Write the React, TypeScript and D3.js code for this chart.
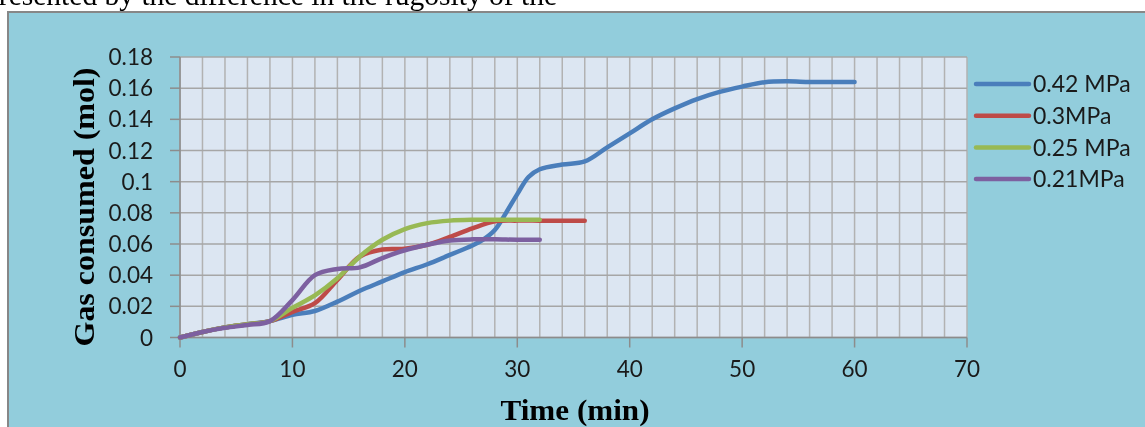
import React from "react";
import * as d3 from "d3";

const timeP42 = [0, 2, 4, 6, 8, 10, 12, 14, 16, 18, 20, 22, 24, 26, 27, 28, 29, 30, 31, 32, 34, 36, 38, 40, 42, 44, 46, 48, 50, 52, 54, 56, 58, 60];
const gasP42 = [0, 0.0035, 0.0065, 0.0085, 0.0105, 0.0145, 0.017, 0.023, 0.030, 0.036, 0.042, 0.047, 0.053, 0.059, 0.063, 0.069, 0.080, 0.092, 0.103, 0.108, 0.111, 0.113, 0.122, 0.131, 0.140, 0.147, 0.153, 0.1576, 0.161, 0.1638, 0.1644, 0.164, 0.164, 0.164];

const timeP30 = [0, 2, 4, 6, 8, 10, 12, 14, 16, 18, 20, 22, 24, 26, 28, 30, 32, 34, 36];
const gasP30 = [0, 0.0035, 0.0065, 0.0085, 0.0105, 0.0165, 0.022, 0.037, 0.052, 0.0565, 0.057, 0.0595, 0.0645, 0.070, 0.0745, 0.075, 0.075, 0.075, 0.075];

const timeP25 = [0, 2, 4, 6, 8, 10, 12, 14, 16, 18, 20, 22, 24, 26, 28, 30, 32];
const gasP25 = [0, 0.0035, 0.0065, 0.0085, 0.0105, 0.019, 0.027, 0.038, 0.052, 0.0627, 0.0696, 0.0734, 0.075, 0.0755, 0.0755, 0.0755, 0.0755];

const timeP21 = [0, 2, 4, 6, 8, 10, 12, 14, 16, 18, 20, 22, 24, 26, 28, 30, 32];
const gasP21 = [0, 0.0035, 0.0062, 0.008, 0.0105, 0.024, 0.040, 0.044, 0.045, 0.051, 0.056, 0.0595, 0.0622, 0.063, 0.063, 0.0627, 0.0627];

const seriesNames = ["0.42 MPa", "0.3MPa", "0.25 MPa", "0.21MPa"];
const seriesColors = ["#4A7EBB", "#BE4B48", "#98B954", "#7D60A0"];
const xTicks = [0, 10, 20, 30, 40, 50, 60, 70];
const yTicks = [0, 0.02, 0.04, 0.06, 0.08, 0.1, 0.12, 0.14, 0.16, 0.18];
const yTickLabels = ["0", "0.02", "0.04", "0.06", "0.08", "0.1", "0.12", "0.14", "0.16", "0.18"];

export default function App() {
  const W = 1145, H = 427;
  const x = d3.scaleLinear().domain([0, 70]).range([180, 967]);
  const y = d3.scaleLinear().domain([0, 0.18]).range([337.5, 57]);
  const series = [
    { t: timeP42, v: gasP42 },
    { t: timeP30, v: gasP30 },
    { t: timeP25, v: gasP25 },
    { t: timeP21, v: gasP21 },
  ];
  const line = d3
    .line<[number, number]>()
    .x((d) => x(d[0]))
    .y((d) => y(d[1]))
    .curve(d3.curveCatmullRom.alpha(0.5));
  const minor = d3.range(0, 71, 2);
  const labelFont = "Lato, 'Open Sans', sans-serif";
  const serif = "'Liberation Serif', 'DejaVu Serif', serif";
  return (
    <div style={{ position: "fixed", left: 0, top: 0 }}>
      <svg width={W} height={H} style={{ display: "block" }}>
        <rect x={0} y={0} width={W} height={H} fill="#ffffff" />
        <text x={557} y={5} textAnchor="end" fontFamily={serif} fontSize={29.5} fill="#000">
          represented by the difference in the rugosity of the
        </text>
        <rect x={8} y={12} width={W + 10} height={H} fill="#92CDDC" stroke="#878787" strokeWidth={2} />
        <rect x={x(0)} y={y(0.18)} width={x(70) - x(0)} height={y(0) - y(0.18)} fill="#DCE6F2" />
        {minor.map((m) => (
          <line key={"v" + m} x1={x(m)} x2={x(m)} y1={y(0)} y2={y(0.18)} stroke="#B2B2B2" strokeWidth={1.5} />
        ))}
        {yTicks.map((t) => (
          <line key={"h" + t} x1={x(0)} x2={x(70)} y1={y(t)} y2={y(t)} stroke="#A6A6A6" strokeWidth={1.5} />
        ))}
        <line x1={x(0)} x2={x(0)} y1={y(0)} y2={y(0.18)} stroke="#8C8C8C" strokeWidth={1.5} />
        <line x1={x(0)} x2={x(70)} y1={y(0)} y2={y(0)} stroke="#8C8C8C" strokeWidth={1.5} />
        {yTicks.map((t) => (
          <line key={"yt" + t} x1={x(0) - 10} x2={x(0)} y1={y(t)} y2={y(t)} stroke="#8C8C8C" strokeWidth={1.5} />
        ))}
        {xTicks.map((t) => (
          <line key={"xt" + t} x1={x(t)} x2={x(t)} y1={y(0)} y2={y(0) + 10} stroke="#8C8C8C" strokeWidth={1.5} />
        ))}
        {yTicks.map((t, i) => (
          <text key={"yl" + t} x={153} y={y(t)} dy="0.36em" textAnchor="end" fontFamily={labelFont} fontSize={22.5} fill="#1a1a1a">
            {yTickLabels[i]}
          </text>
        ))}
        {xTicks.map((t) => (
          <text key={"xl" + t} x={x(t)} y={377} textAnchor="middle" fontFamily={labelFont} fontSize={22.5} fill="#1a1a1a">
            {String(t)}
          </text>
        ))}
        {series.map((s, i) => (
          <path
            key={"s" + i}
            d={line(s.t.map((tt, j) => [tt, s.v[j]]) as [number, number][]) || ""}
            fill="none"
            stroke={seriesColors[i]}
            strokeWidth={4.5}
            strokeLinecap="round"
            strokeLinejoin="round"
          />
        ))}
        {seriesNames.map((n, i) => {
          const ly = 84 + i * 31.7;
          return (
            <g key={"lg" + i}>
              <line x1={976} x2={1029} y1={ly} y2={ly} stroke={seriesColors[i]} strokeWidth={4.5} strokeLinecap="round" />
              <text x={1033} y={ly} dy="0.36em" fontFamily={labelFont} fontSize={23} fill="#1a1a1a">
                {n}
              </text>
            </g>
          );
        })}
        <text
          x={575}
          y={420}
          textAnchor="middle"
          fontFamily={serif}
          fontWeight="bold"
          fontSize={29}
          textLength={149}
          lengthAdjust="spacingAndGlyphs"
          fill="#000"
        >
          Time (min)
        </text>
        <text
          transform="translate(94,207) rotate(-90)"
          textAnchor="middle"
          fontFamily={serif}
          fontWeight="bold"
          fontSize={30}
          textLength={279}
          lengthAdjust="spacingAndGlyphs"
          fill="#000"
        >
          Gas consumed (mol)
        </text>
      </svg>
    </div>
  );
}
